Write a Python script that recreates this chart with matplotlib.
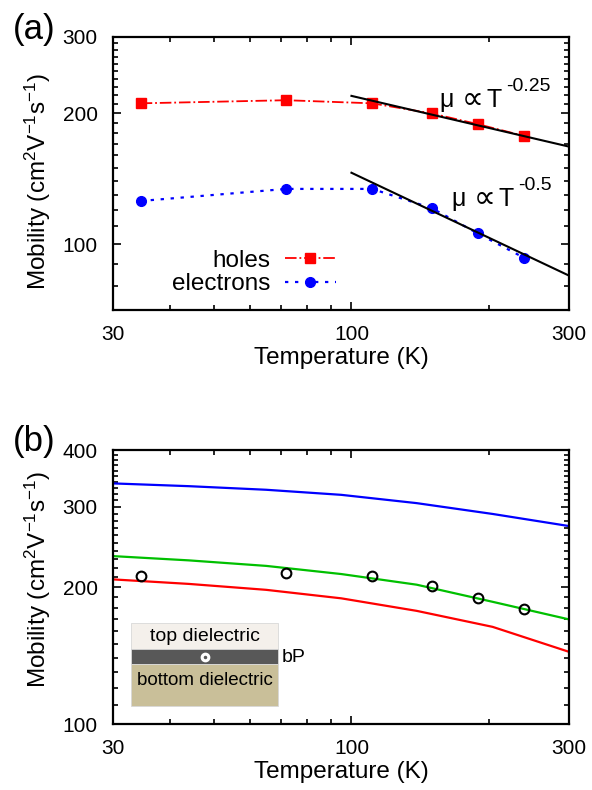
import numpy as np
import matplotlib
matplotlib.use("Agg")
import matplotlib.pyplot as plt
from matplotlib.ticker import FixedLocator, NullFormatter
from matplotlib.patches import Rectangle

# panel (a): measured mobilities
T_meas = [34.5, 72, 111, 150, 189, 239]
mu_holes = [211, 214.5, 211, 200, 189, 177.5]
mu_electrons = [125.7, 134, 134, 121, 105.9, 93]

# power-law guides, start at 100 K
T_fit = [100, 300]
fit_holes = [219.5, 167.7]
fit_electrons = [146, 84.6]

# panel (b): model curves
T_model = [30, 44, 65, 95, 139, 204, 300]
mu_blue = [337.9, 333.2, 327.2, 318.9, 305.8, 289.5, 272.3]
mu_green = [233.9, 228.9, 222.6, 213.6, 202.4, 185.6, 169.8]
mu_red = [207.9, 203.2, 197.2, 188.9, 177.3, 163.5, 144.1]
mu_exp = [212, 215, 212, 201, 189, 178.6]

plt.rcParams['font.family'] = ['Liberation Sans', 'DejaVu Sans']
plt.rcParams['mathtext.fontset'] = 'custom'
plt.rcParams['mathtext.rm'] = 'Liberation Sans'
plt.rcParams['mathtext.it'] = 'Liberation Sans:italic'
plt.rcParams['mathtext.bf'] = 'Liberation Sans:bold'

fig = plt.figure(figsize=(5.92, 7.90), dpi=100)
ax1 = fig.add_axes([0.1909, 0.6076, 0.7703, 0.3456])
ax2 = fig.add_axes([0.1909, 0.0835, 0.7703, 0.3468])

ylabel = r"Mobility (cm$^2$V$^{-1}$s$^{-1}$)"


def style(ax, ylim, yticks, ylab_y):
    ax.set_xscale('log')
    ax.set_yscale('log')
    ax.set_xlim(30, 300)
    ax.set_ylim(*ylim)
    ax.xaxis.set_major_locator(FixedLocator([30, 100, 300]))
    ax.xaxis.set_minor_locator(FixedLocator([40, 50, 60, 70, 80, 90, 200]))
    ax.set_xticklabels(['30', '100', '300'])
    ax.xaxis.set_minor_formatter(NullFormatter())
    ax.yaxis.set_major_locator(FixedLocator(yticks))
    ax.set_yticklabels([str(v) for v in yticks])
    minors = [v for v in list(range(70, 100, 10)) + list(range(100, 1000, 10))
              if v not in yticks and ylim[0] <= v <= ylim[1]]
    ax.yaxis.set_minor_locator(FixedLocator(minors))
    ax.yaxis.set_minor_formatter(NullFormatter())
    ax.tick_params(which='both', direction='in', top=True, right=True,
                   labelsize=15, width=1.2)
    ax.tick_params(which='major', length=6)
    ax.tick_params(which='minor', length=3.5)
    ax.tick_params(axis='x', pad=11)
    ax.tick_params(axis='y', pad=11)
    for s in ax.spines.values():
        s.set_linewidth(1.6)
    ax.set_xlabel("Temperature (K)", fontsize=17.5, labelpad=2)
    ax.set_ylabel(ylabel, fontsize=17.5)
    ax.yaxis.set_label_coords(-0.132, ylab_y)


def power_label(ax, px, base, sup_base, expo):
    # pieces placed at pixel positions measured on the original (a) panel
    fx = lambda x: (x - 113) / 456
    fy = lambda y: (310 - y) / 273
    kw = dict(transform=ax.transAxes, va='baseline', ha='left')
    ax.text(fx(px), fy(base), "μ", fontsize=18, family='Liberation Sans', **kw)
    ax.text(fx(px + 23), fy(base + 1), "∝", fontsize=22, family='DejaVu Sans',
            **kw)
    ax.text(fx(px + 47), fy(base), "T", fontsize=18, family='Liberation Sans',
            **kw)
    ax.text(fx(px + 67), fy(sup_base), expo, fontsize=14,
            family='Liberation Sans', **kw)


# (a)
ax1.plot(T_meas, mu_holes, color='red', ls='-.', lw=1.3, marker='s',
         ms=7, label='holes')
ax1.plot(T_meas, mu_electrons, color='blue', ls=(0, (1.5, 3)), lw=1.6,
         marker='o', ms=7, label='electrons')
ax1.plot(T_fit, fit_holes, color='black', lw=1.5)
ax1.plot(T_fit, fit_electrons, color='black', lw=1.5)
style(ax1, (70.5, 300), [100, 200, 300], 0.47)
power_label(ax1, 439, 107, 91, "-0.25")
power_label(ax1, 451, 206, 190, "-0.5")
ax1.legend(loc='upper right', bbox_to_anchor=(0.489, 0.22), frameon=False,
           markerfirst=False, fontsize=17.5, handlelength=2.1,
           handletextpad=0.6, labelspacing=0.05, borderpad=0,
           borderaxespad=0)
fig.text(0.022, 0.9835, "(a)", fontsize=25, va='top')

# (b)
ax2.plot(T_model, mu_blue, color='blue', lw=1.6)
ax2.plot(T_model, mu_green, color='#00c000', lw=1.6)
ax2.plot(T_model, mu_red, color='red', lw=1.6)
ax2.plot(T_meas, mu_exp, ls='none', marker='o', ms=7, mfc='none',
         mec='black', mew=1.5)
style(ax2, (100, 400), [100, 200, 300, 400], 0.526)
fig.text(0.022, 0.462, "(b)", fontsize=25, va='top')

# inset sketch of the device stack (axes fraction coordinates)
x0, x1 = (130.7 - 113) / 456, (278.3 - 113) / 456
layers = [((724 - 649.3) / 274, (649.3 - 623.3) / 274, '#f4f0eb'),
          ((724 - 664) / 274, (664 - 649.3) / 274, '#585858'),
          ((724 - 706) / 274, (706 - 664) / 274, '#c9bf99')]
for yb, h, c in layers:
    ax2.add_patch(Rectangle((x0, yb), x1 - x0, h, transform=ax2.transAxes,
                            facecolor=c, edgecolor='#d8d8d8', lw=0.6, zorder=3))
xc = (x0 + x1) / 2
ax2.text(xc, (724 - 636) / 274, "top dielectric", transform=ax2.transAxes,
         ha='center', va='center', fontsize=14, zorder=4)
ax2.text(xc, (724 - 680) / 274, "bottom dielectric", transform=ax2.transAxes,
         ha='center', va='center', fontsize=13.5, zorder=4)
ax2.text(x1 + 0.008, (724 - 657) / 274, "bP", transform=ax2.transAxes,
         ha='left', va='center', fontsize=14, zorder=4)
ax2.plot([xc], [(724 - 656.7) / 274], transform=ax2.transAxes, marker='o',
         ms=6, mfc='white', mec='white', zorder=5)
ax2.plot([xc], [(724 - 656.7) / 274], transform=ax2.transAxes, marker='o',
         ms=1.5, mfc='#585858', mec='#585858', zorder=6)

fig.savefig("out.png", dpi=100)
